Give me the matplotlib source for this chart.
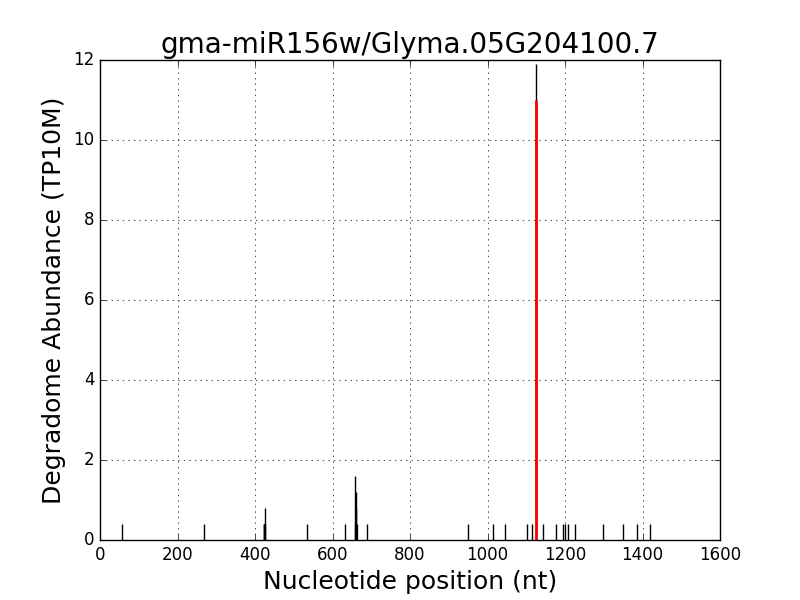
import matplotlib
matplotlib.use('Agg')
import matplotlib.pyplot as plt

plt.style.use('classic')

# degradome tags (position, abundance)
positions = [58, 269, 422, 423, 424, 425, 426, 535, 631, 658, 659, 660, 661, 662, 690,
             950, 1015, 1046, 1103, 1116, 1125, 1142, 1177, 1195, 1199, 1209, 1227,
             1299, 1350, 1386, 1419]
abundance = [0.4, 0.4, 0.4, 0.4, 0.4, 0.4, 0.8, 0.4, 0.4, 0.4, 1.6, 1.2, 0.8, 0.4, 0.4,
             0.4, 0.4, 0.4, 0.4, 0.4, 11.9, 0.4, 0.4, 0.4, 0.4, 0.4, 0.4,
             0.4, 0.4, 0.4, 0.4]
# predicted cleavage site
site_pos = [1125]
site_val = [11.0]

fig = plt.figure(figsize=(8, 6), dpi=100)
ax = fig.add_subplot(111)
ax.vlines(positions, 0, abundance, colors='black', linewidth=1)
ax.vlines(site_pos, 0, site_val, colors='red', linewidth=2)
ax.set_xlim(0, 1600)
ax.set_ylim(0, 12)
ax.grid(True)
ax.set_title('gma-miR156w/Glyma.05G204100.7', fontsize=20)
ax.set_xlabel('Nucleotide position (nt)', fontsize=18)
ax.set_ylabel('Degradome Abundance (TP10M)', fontsize=18)
fig.savefig('out.png', dpi=100)
